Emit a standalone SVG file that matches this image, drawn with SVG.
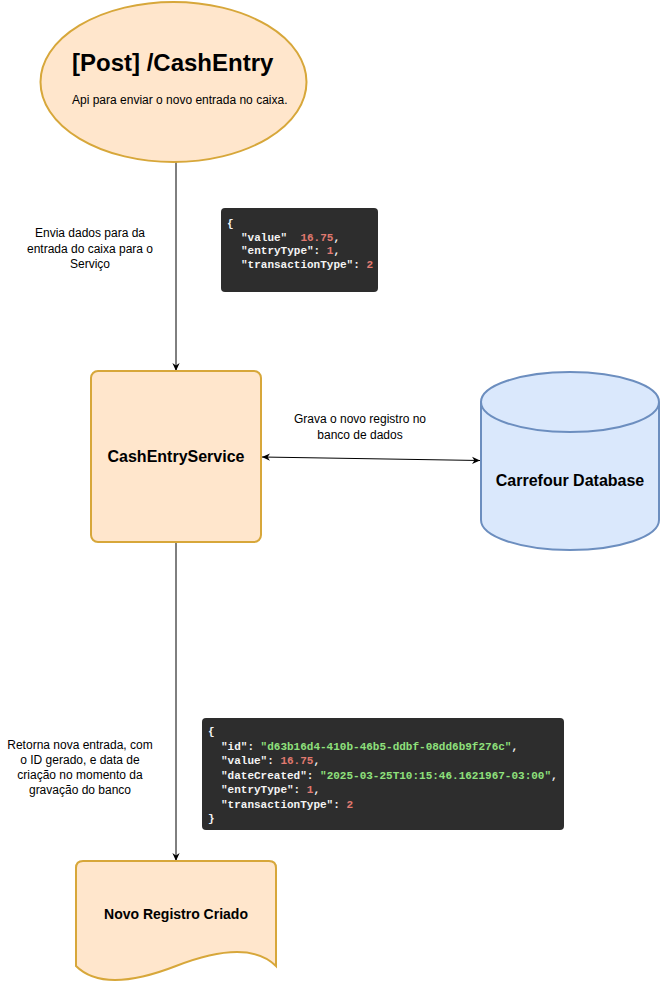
<svg xmlns="http://www.w3.org/2000/svg" width="661" height="982" viewBox="0 0 661 982">
<defs>
<marker id="arr" viewBox="0 0 10 10" refX="10" refY="5" markerWidth="8" markerHeight="8" markerUnits="userSpaceOnUse" orient="auto-start-reverse">
<path d="M0,0.5 L10,5 L0,9.5 L3,5 z" fill="#000"/>
</marker>
</defs>
<style>
.orange{fill:#ffe6cc;stroke:#d7a73a;stroke-width:2}
.blue{fill:#dae8fc;stroke:#6c8ebf;stroke-width:2}
.lbl{font-family:"Liberation Sans",Arial,sans-serif;font-size:12px;fill:#000;text-anchor:middle}
.bold{font-family:"Liberation Sans",Arial,sans-serif;font-weight:bold;fill:#000;text-anchor:middle}
.code{fill:#2d2d2d}
.mono{font-family:"Liberation Mono","DejaVu Sans Mono",monospace;font-weight:bold;font-size:11px;fill:#f4f4f4}
.num{fill:#e07a70}
.str{fill:#8fe07c}
.conn{stroke:#000;stroke-width:1;fill:none}
</style>
<rect width="661" height="982" fill="#fff"/>

<g id="connectors">
<line class="conn" x1="176" y1="162" x2="176" y2="371" marker-end="url(#arr)"/>
<line class="conn" x1="262" y1="457" x2="480" y2="460.5" marker-start="url(#arr)" marker-end="url(#arr)"/>
<line class="conn" x1="176" y1="542" x2="176" y2="861" marker-end="url(#arr)"/>
<g id="label-envia">
<text class="lbl" x="90" y="237">Envia dados para da</text>
<text class="lbl" x="90" y="252.5">entrada do caixa para o</text>
<text class="lbl" x="90" y="268">Serviço</text>
</g>
<g id="label-grava">
<text class="lbl" x="360" y="423">Grava o novo registro no</text>
<text class="lbl" x="360" y="438.5">banco de dados</text>
</g>
<g id="label-retorna">
<text class="lbl" x="80" y="749">Retorna nova entrada, com</text>
<text class="lbl" x="80" y="764">o ID gerado, e data de</text>
<text class="lbl" x="80" y="779">criação no momento da</text>
<text class="lbl" x="80" y="793.5">gravação do banco</text>
</g>
</g>

<g id="node-post">
<ellipse class="orange" cx="173.5" cy="82" rx="133" ry="80"/>
<text x="72" y="71" style="font-family:'Liberation Sans',Arial,sans-serif;font-weight:bold;font-size:24px;fill:#000">[Post] /CashEntry</text>
<text x="72" y="104" style="font-family:'Liberation Sans',Arial,sans-serif;font-size:12px;fill:#000">Api para enviar o novo entrada no caixa.</text>
</g>

<g id="json-request">
<rect class="code" x="221" y="208" width="157" height="84" rx="4"/>
<text class="mono" x="227" y="227">{</text>
<text class="mono" x="241" y="240.5" xml:space="preserve">"value"  <tspan class="num">16.75</tspan>,</text>
<text class="mono" x="241" y="254">"entryType": <tspan class="num">1</tspan>,</text>
<text class="mono" x="241" y="267.5">"transactionType": <tspan class="num">2</tspan></text>
</g>

<g id="node-service">
<rect class="orange" x="91" y="371" width="170" height="171" rx="7"/>
<text class="bold" x="176" y="462" font-size="16">CashEntryService</text>
</g>

<g id="node-database">
<path class="blue" d="M481,402 A89,30 0 0 1 659,402 V520 A89,30 0 0 1 481,520 Z"/>
<path class="blue" fill="none" d="M481,402 A89,30 0 0 0 659,402" style="fill:none"/>
<text class="bold" x="570" y="486" font-size="16">Carrefour Database</text>
</g>

<g id="json-response">
<rect class="code" x="202" y="718" width="362" height="112" rx="4"/>
<text class="mono" x="208" y="735">{</text>
<text class="mono" x="221" y="749.5">"id": <tspan class="str">"d63b16d4-410b-46b5-ddbf-08dd6b9f276c"</tspan>,</text>
<text class="mono" x="221" y="764">"value": <tspan class="num">16.75</tspan>,</text>
<text class="mono" x="221" y="778.5">"dateCreated": <tspan class="str">"2025-03-25T10:15:46.1621967-03:00"</tspan>,</text>
<text class="mono" x="221" y="793">"entryType": <tspan class="num">1</tspan>,</text>
<text class="mono" x="221" y="807.5">"transactionType": <tspan class="num">2</tspan></text>
<text class="mono" x="208" y="822">}</text>
</g>

<g id="node-document">
<path class="orange" d="M83,861 H269 Q276,861 276,868 V966 Q248,938 176,966 Q104,994 76,966 V868 Q76,861 83,861 Z"/>
<text class="bold" x="176" y="919" font-size="14">Novo Registro Criado</text>
</g>
</svg>
